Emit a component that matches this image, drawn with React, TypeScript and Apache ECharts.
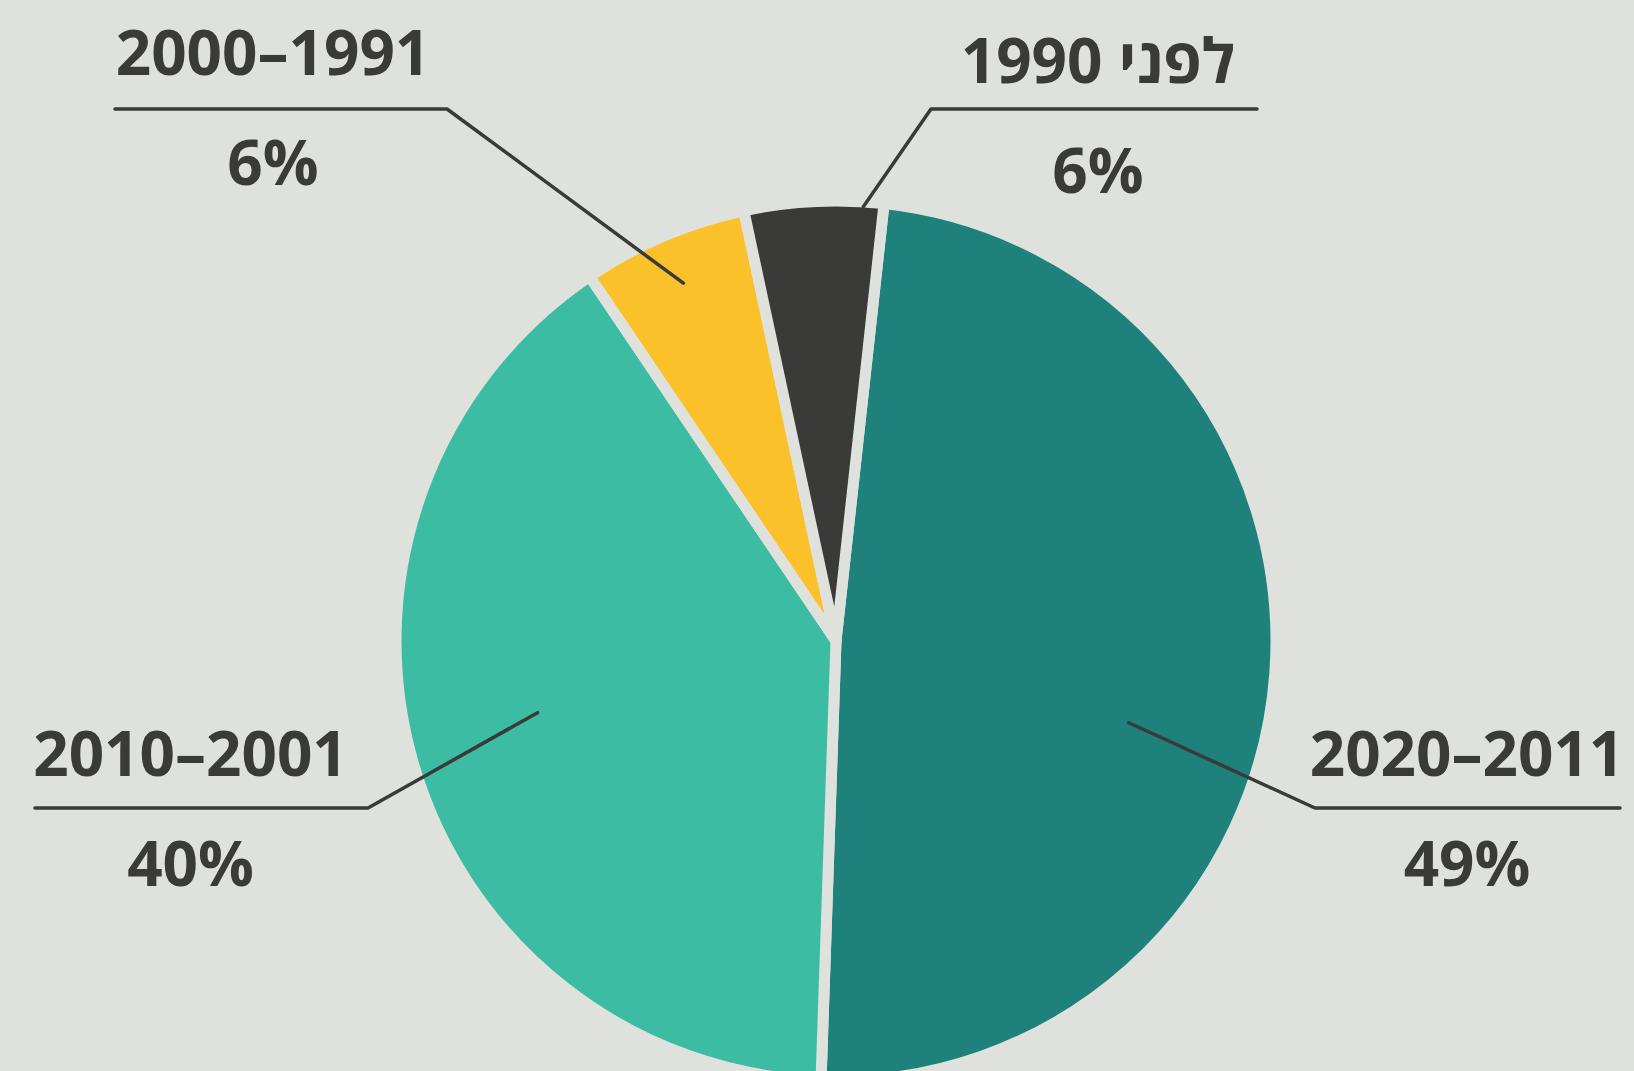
import React, { useEffect, useRef } from "react";
import * as echarts from "echarts";

// ---- data ----
const periods = ["2020–2011", "2010–2001", "2000–1991", "לפני 1990"];
const shares = [48.8, 40.0, 6.1, 5.1];
const printedPercents = [49, 40, 6, 6];
const sliceColors = ["#1e817b", "#3dbca4", "#fbc12b", "#3a3a38"];

// ---- layout / style ----
const BG = "#dfe2dc";
const INK = "#3a3a38";
const CX = 836;
const CY = 641;
const R = 440;
const START_ANGLE = 90 - 6.27;
const FONT = "'Open Sans', 'DejaVu Sans', sans-serif";

// label guides: start point in polar terms (clockwise degrees from 12 o'clock, px from centre)
const guides = [
  { angle: 105.6, radius: 304, elbow: [1315, 808], end: [1620, 808], textX: 1467, textDy: -1.5 },
  { angle: 256.5, radius: 307, elbow: [368, 808], end: [35, 808], textX: 190.5, textDy: -1.5 },
  { angle: 336.9, radius: 389, elbow: [447, 109], end: [115, 109], textX: 273, textDy: -3 },
  { angle: 3.6, radius: 435, elbow: [931, 109], end: [1257, 109], textX: 1098, textDy: 4.5 },
];

function polar(angleDeg: number, r: number): number[] {
  const a = (angleDeg * Math.PI) / 180;
  return [CX + r * Math.sin(a), CY - r * Math.cos(a)];
}

export default function App() {
  const ref = useRef<HTMLDivElement>(null);

  useEffect(() => {
    if (!ref.current) return;
    const chart = echarts.init(ref.current, null, { renderer: "svg" });
    const common = {
      type: "pie",
      center: [CX, CY],
      radius: [0, R],
      startAngle: START_ANGLE,
      clockwise: true,
      avoidLabelOverlap: false,
      emphasis: { disabled: true },
      silent: true,
    };
    chart.setOption({
      animation: false,
      backgroundColor: BG,
      series: [
        {
          ...common,
          z: 2,
          data: periods.map((name, i) => ({
            name,
            value: shares[i],
            itemStyle: { color: sliceColors[i] },
          })),
          itemStyle: { borderColor: BG, borderWidth: 11 },
          label: { show: false },
          labelLine: { show: false },
        },
        {
          ...common,
          z: 5,
          data: periods.map((name, i) => ({ name, value: shares[i] })),
          itemStyle: { color: "rgba(0,0,0,0)", borderWidth: 0 },
          label: {
            show: true,
            position: "outside",
            width: 460,
            overflow: "none",
            formatter: (p: any) => `{n|${p.name}}\n{p|${printedPercents[p.dataIndex]}%}`,
            rich: {
              n: {
                fontFamily: FONT,
                fontWeight: 700,
                fontSize: 62,
                lineHeight: 110,
                color: INK,
                align: "center",
              },
              p: {
                fontFamily: FONT,
                fontWeight: 700,
                fontSize: 62,
                lineHeight: 110,
                color: INK,
                align: "center",
              },
            },
          },
          labelLine: {
            show: true,
            length: 20,
            length2: 20,
            smooth: false,
            lineStyle: { color: INK, width: 3.5, cap: "round", join: "round" },
          },
          labelLayout: (params: any) => {
            const g = guides[params.dataIndex];
            return {
              x: g.textX,
              y: g.elbow[1] + g.textDy,
              align: "center",
              verticalAlign: "middle",
              labelLinePoints: [polar(g.angle, g.radius), g.elbow, g.end],
            };
          },
        },
      ],
    });
    return () => chart.dispose();
  }, []);

  return (
    <div
      ref={ref}
      style={{ position: "absolute", left: 0, top: 0, width: 1634, height: 1071 }}
    />
  );
}
